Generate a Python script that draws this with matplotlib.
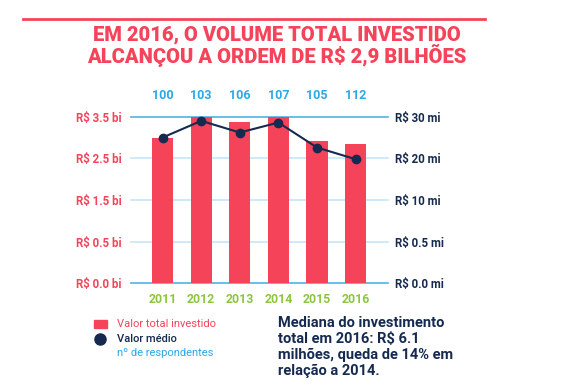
import matplotlib
matplotlib.use('Agg')
import matplotlib.pyplot as plt
import numpy as np

# dados
anos = ['2011', '2012', '2013', '2014', '2015', '2016']
respondentes = [100, 103, 106, 107, 105, 112]
valor_total_bi = [3.0, 3.5, 3.37, 3.5, 2.92, 2.85]      # R$ bi
valor_medio_mi = [25.0, 29.0, 26.2, 28.6, 22.6, 19.8]   # R$ mi

# o eixo original não é linear: cada marca ocupa o mesmo espaço
marcas_bi = [0.0, 0.5, 1.5, 2.5, 3.5]
rotulos_bi = ['R$ 0.0 bi', 'R$ 0.5 bi', 'R$ 1.5 bi', 'R$ 2.5 bi', 'R$ 3.5 bi']
marcas_mi = [0.0, 0.5, 10, 20, 30]
rotulos_mi = ['R$ 0.0 mi', 'R$ 0.5 mi', 'R$ 10 mi', 'R$ 20 mi', 'R$ 30 mi']

VERMELHO = '#f5435a'
AZUL_ESCURO = '#162a4f'
AZUL_CLARO = '#2aa9e6'
VERDE = '#8cc63f'

plt.rcParams['font.family'] = ['Roboto', 'DejaVu Sans']

pos = np.arange(len(anos))
nivel = np.arange(len(marcas_bi))
altura = np.interp(valor_total_bi, marcas_bi, nivel)
linha = np.interp(valor_medio_mi, marcas_mi, nivel)

fig = plt.figure(figsize=(5.7, 3.92), dpi=100)
ax = fig.add_axes([0.2298, 0.2773, 0.4509, 0.425])

for i in nivel:
    cor = '#4fb3e8' if i in (0, nivel[-1]) else '#c5e6f7'
    ax.axhline(i, color=cor, lw=1.2, zorder=0, clip_on=False)

ax.bar(pos, altura, width=0.55, color=VERMELHO, zorder=2)
ax.plot(pos, linha, color=AZUL_ESCURO, lw=1.5, marker='o', ms=6, zorder=3,
        clip_on=False)

ax.set_xlim(-0.82, 5.84)
ax.set_ylim(0, 4)
for s in ax.spines.values():
    s.set_visible(False)
ax.set_xticks(pos)
ax.set_xticklabels(anos, color=VERDE, fontweight='bold', fontsize=8.8)
ax.set_yticks(nivel)
ax.set_yticklabels(rotulos_bi, color=VERMELHO, fontweight='bold', fontsize=8.3)
ax.tick_params(length=0, pad=7)
ax.tick_params(axis='y', pad=6.5)

ax2 = ax.twinx()
ax2.set_ylim(0, 4)
ax2.set_yticks(nivel)
ax2.set_yticklabels(rotulos_mi, color=AZUL_ESCURO, fontweight='bold', fontsize=8.3)
ax2.tick_params(length=0, pad=5)
for s in ax2.spines.values():
    s.set_visible(False)

for x, n in zip(pos, respondentes):
    ax.text(x, 4.52, str(n), color=AZUL_CLARO, fontweight='bold',
            fontsize=9, ha='center', va='center')

# topo
fig.add_artist(plt.Line2D([23 / 570, 485 / 570], [1 - 19.3 / 392] * 2,
                          color=VERMELHO, lw=2))
fig.text(0.485, 1 - 35 / 392, 'EM 2016, O VOLUME TOTAL INVESTIDO',
         color=VERMELHO, fontweight='heavy', fontsize=14.5, ha='center',
         va='center')
fig.text(0.485, 1 - 56 / 392, 'ALCANÇOU A ORDEM DE R$ 2,9 BILHÕES',
         color=VERMELHO, fontweight='heavy', fontsize=14.5, ha='center',
         va='center')

# legenda
fig.patches.append(plt.Rectangle((94 / 570, 1 - 328 / 392), 13 / 570, 8 / 392,
                                 color=VERMELHO, transform=fig.transFigure))
fig.text(117 / 570, 1 - 324 / 392, 'Valor total investido', color=VERMELHO,
         fontsize=8, va='center')
fig.add_artist(plt.Line2D([100 / 570], [1 - 339 / 392], marker='o', ms=8,
                          color=AZUL_ESCURO, lw=0))
fig.text(117 / 570, 1 - 339 / 392, 'Valor médio', color=AZUL_ESCURO,
         fontsize=8, va='center', fontweight='medium')
fig.text(117 / 570, 1 - 353 / 392, 'nº de respondentes', color=AZUL_CLARO,
         fontsize=8, va='center')

fig.text(278 / 570, 1 - 347 / 392,
         'Mediana do investimento\ntotal em 2016: R$ 6.1\nmilhões, queda de 14% em\nrelação a 2014.',
         color=AZUL_ESCURO, fontsize=10.5, fontweight='bold', va='center',
         linespacing=1.15)

fig.savefig('out.png', dpi=100)
